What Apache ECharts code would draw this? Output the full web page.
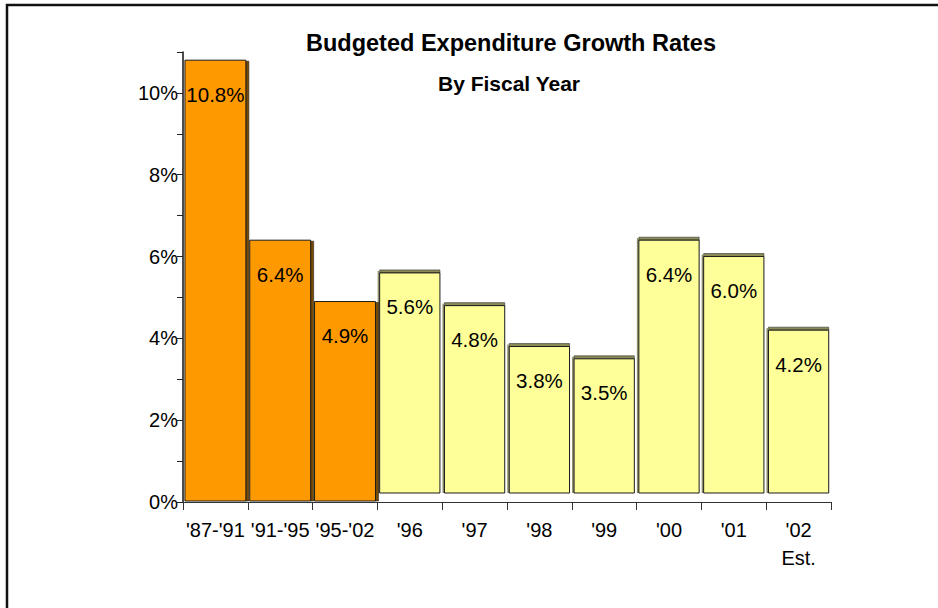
<!DOCTYPE html>
<html>
<head>
<meta charset="utf-8">
<title>Budgeted Expenditure Growth Rates</title>
<script src="https://cdn.jsdelivr.net/npm/echarts@6/dist/echarts.min.js"></script>
<style>
  html, body { margin: 0; padding: 0; background: #fff; }
  #chart { width: 938px; height: 608px; }
</style>
</head>
<body>
<div id="chart"></div>
<script>
// Fiscal-year categories along the x axis
const categories = ["'87-'91", "'91-'95", "'95-'02", "'96", "'97", "'98", "'99", "'00", "'01", "'02\nEst."];
// Multi-year average growth rates (%)
const periodRates = [10.8, 6.4, 4.9, null, null, null, null, null, null, null];
// Single-year growth rates (%)
const annualRates = [null, null, null, 5.6, 4.8, 3.8, 3.5, 6.4, 6.0, 4.2];
// Value axis range and label step (%)
const yMin = 0;
const yMax = 11;
const yLabelStep = 2;

const titleText = 'Budgeted Expenditure Growth Rates';
const subtitleText = 'By Fiscal Year';

const FONT = '"Liberation Sans", Arial, sans-serif';

function toPoints(values) {
  const out = [];
  values.forEach(function (v, i) { if (v != null) out.push([i, v]); });
  return out;
}

// Draws a column with a thin shaded edge to give it some depth
function makeRenderer(style) {
  return function (params, api) {
    const idx = api.value(0);
    const val = api.value(1);
    const topPt = api.coord([idx, val]);
    const basePt = api.coord([idx, 0]);
    const cw = api.size([1, 0])[0];
    const w = cw * style.widthRatio;
    const x0 = topPt[0] - w / 2 + style.shift;
    const yTop = topPt[1];
    const yBot = basePt[1] - style.lift;
    const h = yBot - yTop;
    const children = [];
    if (style.side === 'right') {
      children.push({
        type: 'rect',
        shape: { x: x0 + w, y: yTop + 1, width: 3, height: h - 1 },
        style: { fill: style.edge, stroke: '#222', lineWidth: 0.6 }
      });
    } else {
      children.push({
        type: 'rect',
        shape: { x: x0, y: yTop - 3, width: w, height: 3 },
        style: { fill: style.edge, stroke: '#333', lineWidth: 0.6 }
      });
      children.push({
        type: 'rect',
        shape: { x: x0 - 2, y: yTop - 2, width: 2, height: h + 2 },
        style: { fill: '#8c8c6a', stroke: null }
      });
    }
    children.push({
      type: 'rect',
      shape: { x: x0, y: yTop, width: w, height: h },
      style: { fill: style.fill, stroke: '#1a1a1a', lineWidth: 1 }
    });
    children.push({
      type: 'text',
      style: {
        x: x0 + w / 2,
        y: yTop + 34,
        text: val.toFixed(1) + '%',
        fill: '#000',
        font: '20.5px ' + FONT,
        align: 'center',
        verticalAlign: 'middle'
      }
    });
    return { type: 'group', children: children };
  };
}

const chart = echarts.init(document.getElementById('chart'), null, { renderer: 'svg' });

chart.setOption({
  animation: false,
  backgroundColor: '#fff',
  grid: { left: 183, right: 107, top: 52, bottom: 106, containLabel: false },
  xAxis: {
    type: 'category',
    data: categories,
    boundaryGap: true,
    axisLine: { show: true, lineStyle: { color: '#333', width: 1 } },
    axisTick: { show: true, interval: 0, length: 8, lineStyle: { color: '#333' } },
    axisLabel: {
      interval: 0,
      margin: 14,
      color: '#000',
      fontFamily: FONT,
      fontSize: 20,
      lineHeight: 28
    },
    splitLine: { show: false }
  },
  yAxis: {
    type: 'value',
    min: yMin,
    max: yMax,
    interval: 1,
    axisLine: { show: true, lineStyle: { color: '#111', width: 1.5 } },
    axisTick: { show: true, inside: false, length: 6, lineStyle: { color: '#222' } },
    axisLabel: {
      margin: 5,
      color: '#000',
      fontFamily: FONT,
      fontSize: 20,
      formatter: function (v) {
        return (v % yLabelStep === 0) ? v + '%' : '';
      }
    },
    splitLine: { show: false }
  },
  series: [
    {
      name: 'Multi-year',
      type: 'custom',
      renderItem: makeRenderer({ fill: '#FF9900', edge: '#7a4a00', side: 'right', lift: 1, shift: 0, widthRatio: 0.94 }),
      encode: { x: 0, y: 1 },
      data: toPoints(periodRates),
      z: 3
    },
    {
      name: 'Annual',
      type: 'custom',
      renderItem: makeRenderer({ fill: '#FFFF99', edge: '#8a8a55', side: 'left', lift: 9, shift: 0, widthRatio: 0.93 }),
      encode: { x: 0, y: 1 },
      data: toPoints(annualRates),
      z: 2
    }
  ],
  graphic: [
    {
      type: 'rect',
      shape: { x: 7, y: 5, width: 1000, height: 700 },
      style: { fill: 'none', stroke: '#111', lineWidth: 2.5 },
      silent: true
    },
    {
      type: 'text',
      style: {
        x: 511, y: 43,
        text: titleText,
        fill: '#000',
        font: 'bold 23.5px ' + FONT,
        align: 'center',
        verticalAlign: 'middle'
      }
    },
    {
      type: 'text',
      style: {
        x: 509, y: 83,
        text: subtitleText,
        fill: '#000',
        font: 'bold 21px ' + FONT,
        align: 'center',
        verticalAlign: 'middle'
      }
    }
  ]
});
</script>
</body>
</html>
